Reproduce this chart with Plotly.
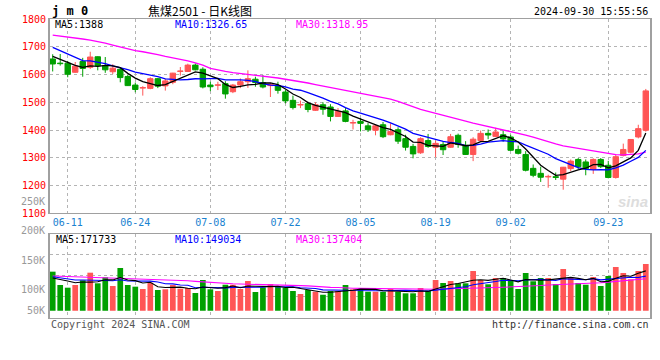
import plotly.graph_objects as go
import pandas as pd

# ---------------- data ----------------
holidays = ["2024-06-10", "2024-09-16", "2024-09-17"]
dates = [d.strftime("%Y-%m-%d") for d in pd.bdate_range("2024-06-06", "2024-09-30")
         if d.strftime("%Y-%m-%d") not in holidays]

open_ = [1656, 1641, 1641, 1608, 1647, 1626, 1664, 1632, 1610, 1619,
         1593, 1562, 1551, 1550, 1585, 1559, 1572, 1611, 1611, 1634,
         1619, 1562, 1561, 1567, 1538, 1562, 1574, 1583, 1571, 1560,
         1560, 1537, 1507, 1490, 1495, 1471, 1491, 1483, 1449, 1469,
         1425, 1431, 1415, 1399, 1419, 1383, 1401, 1369, 1341, 1318,
         1362, 1338, 1348, 1338, 1381, 1345, 1312, 1362, 1388, 1377,
         1383, 1375, 1330, 1312, 1262, 1244, 1231, 1232, 1223, 1261,
         1294, 1285, 1258, 1294, 1273, 1229, 1308, 1320, 1375, 1399]
high = [1673, 1674, 1649, 1645, 1660, 1682, 1665, 1663, 1637, 1624,
        1600, 1571, 1558, 1590, 1587, 1584, 1606, 1627, 1639, 1640,
        1626, 1574, 1574, 1576, 1566, 1586, 1615, 1592, 1598, 1569,
        1574, 1544, 1524, 1506, 1502, 1500, 1500, 1493, 1479, 1479,
        1437, 1443, 1425, 1421, 1429, 1424, 1410, 1383, 1350, 1374,
        1386, 1362, 1357, 1386, 1387, 1360, 1374, 1398, 1402, 1408,
        1399, 1383, 1344, 1324, 1276, 1268, 1239, 1247, 1267, 1294,
        1299, 1294, 1298, 1299, 1289, 1312, 1351, 1367, 1419, 1548]
low = [1611, 1632, 1590, 1607, 1592, 1620, 1615, 1606, 1602, 1572,
       1559, 1536, 1524, 1547, 1551, 1542, 1565, 1596, 1610, 1615,
       1550, 1540, 1544, 1513, 1533, 1551, 1552, 1556, 1550, 1519,
       1531, 1496, 1474, 1479, 1464, 1469, 1455, 1431, 1447, 1428,
       1402, 1395, 1393, 1381, 1371, 1381, 1350, 1326, 1298, 1314,
       1336, 1302, 1310, 1336, 1336, 1311, 1288, 1360, 1367, 1375,
       1358, 1324, 1312, 1251, 1230, 1213, 1192, 1220, 1185, 1252,
       1258, 1237, 1242, 1263, 1226, 1225, 1305, 1316, 1370, 1394]
close = [1638, 1639, 1601, 1630, 1622, 1663, 1632, 1617, 1623, 1589,
         1560, 1546, 1553, 1585, 1558, 1577, 1605, 1613, 1634, 1617,
         1555, 1556, 1563, 1530, 1562, 1574, 1585, 1571, 1555, 1565,
         1543, 1505, 1481, 1492, 1474, 1491, 1475, 1449, 1467, 1431,
         1427, 1424, 1401, 1415, 1376, 1395, 1360, 1338, 1314, 1369,
         1341, 1352, 1329, 1376, 1348, 1312, 1367, 1388, 1382, 1393,
         1368, 1327, 1316, 1255, 1237, 1230, 1233, 1229, 1266, 1288,
         1268, 1261, 1294, 1268, 1229, 1304, 1330, 1366, 1405, 1541]

# volume, in thousands
volume_k = [130.9, 108.4, 103.9, 108.4, 116.4, 129.2, 111.3, 121.4, 106.7, 137.1,
            108.4, 105.6, 101.7, 112.3, 100.0, 101.2, 108.4, 102.2, 103.4, 94.9,
            116.9, 101.2, 98.3, 108.9, 108.9, 101.7, 115.2, 96.6, 104.6, 110.1,
            105.6, 103.9, 98.3, 93.3, 100.0, 97.1, 92.0, 98.3, 98.3, 108.4,
            101.2, 101.2, 97.1, 97.1, 97.1, 101.7, 97.1, 94.4, 94.4, 103.4,
            98.9, 116.9, 111.8, 115.2, 111.3, 111.3, 132.0, 116.9, 109.6, 120.2,
            120.2, 116.9, 101.7, 128.7, 114.7, 120.2, 120.2, 110.1, 135.4, 120.2,
            111.8, 108.9, 121.9, 106.7, 123.6, 138.8, 128.7, 118.0, 132.0, 143.8]

ma5_early = [1665, 1655, 1643, 1633]
ma10_early = [1698, 1686, 1674, 1660, 1650, 1649, 1645, 1639, 1631]
ma30_early = [1742, 1739, 1736, 1732, 1728, 1724, 1719, 1713, 1706, 1699,
              1692, 1686, 1682, 1678, 1672, 1665, 1660, 1656, 1649, 1642,
              1634, 1622, 1616, 1611, 1607, 1604, 1600, 1596, 1593]
vma5_early = [120.2, 118.0, 115.2, 112.3]
vma10_early = [122.4, 120.7, 118.0, 116.9, 116.9, 116.9, 116.4, 116.0, 115.5]
vma30_early = [123.6, 123.2, 122.8, 122.4, 122.0, 121.5, 121.0, 120.5, 120.2, 120.0,
               119.8, 119.5, 119.0, 118.5, 118.0, 117.5, 117.0, 116.5, 115.5, 114.5,
               113.5, 112.5, 111.5, 111.0, 110.5, 110.0, 109.8, 109.5, 109.3]

date_ticks = ["2024-06-11", "2024-06-24", "2024-07-08", "2024-07-22",
              "2024-08-05", "2024-08-19", "2024-09-02", "2024-09-23"]
date_tick_text = ["06-11", "06-24", "07-08", "07-22", "08-05", "08-19", "09-02", "09-23"]
price_ticks = [1800, 1700, 1600, 1500, 1400, 1300, 1200, 1100]
vol_tick_vals = [250, 200, 150, 100, 50]
vol_tick_text = ["250K", "200K", "150K", "100K", "50K"]

title_symbol = "j m 0"
title_text = "焦煤2501 - 日K线图"
timestamp = "2024-09-30 15:55:56"
price_ma_text = ["MA5:1388", "MA10:1326.65", "MA30:1318.95"]
vol_ma_text = ["MA5:171733", "MA10:149034", "MA30:137404"]
copyright_text = "Copyright 2024 SINA.COM"
url_text = "http://finance.sina.com.cn"


def rolling(vals, n, early):
    out = list(early)
    for i in range(len(early), len(vals)):
        out.append(sum(vals[i - n + 1:i + 1]) / n)
    return out


ma5 = rolling(close, 5, ma5_early)
ma10 = rolling(close, 10, ma10_early)
ma30 = rolling(close, 30, ma30_early)
vma5 = rolling(volume_k, 5, vma5_early)
vma10 = rolling(volume_k, 10, vma10_early)
vma30 = rolling(volume_k, 30, vma30_early)

# ---------------- style ----------------
RED = "#FF5555"
GREEN = "#00A000"
MONO = "DejaVu Sans Mono"
GRID = "#B4B4B4"
BORDER = "#A0A0A0"
VOL_BASE = 65.0
VOL_RANGE = [52.8, 194.9]
PRICE_RANGE = [1100, 1800]
X_RANGE = [-0.36, 79.56]

fig = go.Figure()

up = [i for i in range(len(dates)) if close[i] >= open_[i]]
dn = [i for i in range(len(dates)) if close[i] < open_[i]]

for idx, col in [(up, RED), (dn, GREEN)]:
    wx, wy = [], []
    for i in idx:
        wx += [dates[i], dates[i], None]
        wy += [low[i], high[i], None]
    fig.add_trace(go.Scatter(x=wx, y=wy, mode="lines", line=dict(color=col, width=1),
                             xaxis="x", yaxis="y", hoverinfo="skip"))
    fig.add_trace(go.Bar(x=[dates[i] for i in idx],
                         y=[max(abs(close[i] - open_[i]), 1.5) for i in idx],
                         base=[min(open_[i], close[i]) for i in idx],
                         width=0.72, marker=dict(color=col, line=dict(color=col, width=1)),
                         xaxis="x", yaxis="y"))

for vals, col in [(ma30, "#FF00FF"), (ma10, "#0000FF"), (ma5, "#000000")]:
    fig.add_trace(go.Scatter(x=dates, y=vals, mode="lines", line=dict(color=col, width=1.3),
                             xaxis="x", yaxis="y", hoverinfo="skip"))

for idx, col in [(up, RED), (dn, GREEN)]:
    fig.add_trace(go.Bar(x=[dates[i] for i in idx],
                         y=[volume_k[i] - VOL_BASE for i in idx],
                         base=VOL_BASE, width=0.76,
                         marker=dict(color=col, line=dict(width=0)),
                         xaxis="x2", yaxis="y2"))

for vals, col in [(vma30, "#FF00FF"), (vma10, "#0000FF"), (vma5, "#000000")]:
    fig.add_trace(go.Scatter(x=dates, y=vals, mode="lines", line=dict(color=col, width=1.1),
                             xaxis="x2", yaxis="y2", hoverinfo="skip"))

PLOT_TOP, PLOT_BOT, PLOT_L, PLOT_R = 19, 318, 50, 650
H = PLOT_BOT - PLOT_TOP


def px(x, y):
    return (x - PLOT_L) / (PLOT_R - PLOT_L), (PLOT_BOT - y) / H


price_dom = [(PLOT_BOT - 213.3) / H, 1.0]
vol_dom = [0.0, (PLOT_BOT - 233.7) / H]
vq = (VOL_RANGE[1] - VOL_RANGE[0]) / 4
vol_grid = [VOL_RANGE[0] + k * vq for k in (1, 2, 3)]

axis_common = dict(showline=True, mirror=True, linecolor=BORDER, showgrid=True,
                   gridcolor=GRID, griddash="dot", gridwidth=1, zeroline=False, ticks="")

fig.update_layout(
    width=660, height=360,
    margin=dict(l=PLOT_L, r=660 - PLOT_R, t=PLOT_TOP, b=360 - PLOT_BOT, autoexpand=False),
    paper_bgcolor="white", plot_bgcolor="white",
    showlegend=False, barmode="overlay", hovermode=False,
    xaxis=dict(type="category", categoryorder="array", categoryarray=dates,
               range=X_RANGE, domain=[0, 1], anchor="y",
               tickvals=date_ticks, ticktext=date_tick_text,
               tickfont=dict(family=MONO, size=10, color="#1A82D0"),
               linewidth=1, **axis_common),
    yaxis=dict(domain=price_dom, range=PRICE_RANGE, anchor="x",
               tickvals=price_ticks, ticktext=[str(v) for v in price_ticks],
               tickfont=dict(family=MONO, size=10, color="#FF0000"),
               linewidth=2, **axis_common),
    xaxis2=dict(type="category", categoryorder="array", categoryarray=dates,
                range=X_RANGE, domain=[0, 1], anchor="y2", matches="x",
                tickvals=date_ticks, showticklabels=False, linewidth=1, **axis_common),
    yaxis2=dict(domain=vol_dom, range=VOL_RANGE, anchor="x2",
                tickvals=vol_grid, showticklabels=False, linewidth=2, **axis_common),
)

ann = []


def text_at(x, y, t, anchor="left", color="#000000", size=10, family=MONO):
    ax, ay = px(x, y)
    ann.append(dict(x=ax, y=ay, xref="paper", yref="paper", text=t, showarrow=False,
                    xanchor=anchor, yanchor="middle", borderpad=0,
                    font=dict(family=family, size=size, color=color)))


text_at(51, 11.5, "<b>" + title_symbol + "</b>", size=12)
text_at(200, 10.5, title_text, anchor="center", size=12, family="Noto Sans CJK SC")
text_at(649, 11.5, timestamp, anchor="right")
for t, x, c in zip(price_ma_text, [54, 174, 295], ["#000000", "#0000FF", "#FF00FF"]):
    text_at(x, 24.5, t, color=c)
for t, x, c in zip(vol_ma_text, [55, 174, 295], ["#000000", "#0000FF", "#FF00FF"]):
    text_at(x, 239, t, color=c)
text_at(50, 324, copyright_text, color="#555555")
text_at(650, 324, url_text, anchor="right", color="#333333")
text_at(633, 201, "<b><i>sina</i></b>", anchor="center", color="#DDDDDD", size=15,
        family="Liberation Sans")


def vol_to_paper(v):
    return vol_dom[0] + (v - VOL_RANGE[0]) / (VOL_RANGE[1] - VOL_RANGE[0]) * (vol_dom[1] - vol_dom[0])


for v, t in zip(vol_tick_vals, vol_tick_text):
    ann.append(dict(x=px(46, 0)[0], y=vol_to_paper(max(v, VOL_BASE)), xref="paper", yref="paper",
                    text=t, showarrow=False, xanchor="right", yanchor="middle", borderpad=0,
                    font=dict(family=MONO, size=10, color="#999999")))

fig.update_layout(annotations=ann)
fig.write_html("out.html", config={"displayModeBar": False},
               post_script="document.body.style.margin='0px';")
